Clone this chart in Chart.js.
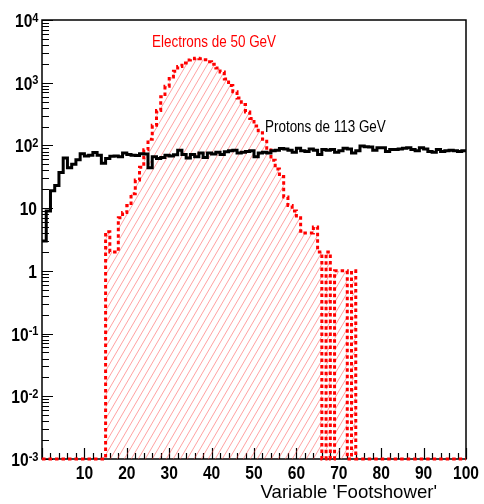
<!DOCTYPE html>
<html>
<head>
<meta charset="utf-8">
<title>Footshower</title>
<script src="https://cdn.jsdelivr.net/npm/chart.js@4.4.0/dist/chart.umd.min.js"></script>
<style>
    html, body { margin: 0; padding: 0; background: #fff; }
    #c { display: block; }
</style>
</head>
<body>
<canvas id="c" width="484" height="504"></canvas>
<script>
(function () {
    "use strict";

    // bin contents, 100 bins of width 1 from 0 to 100
    const protons = [
        3, 9, 19, 23, 37, 63, 44, 50, 59, 74,
        68, 70, 77, 70, 52, 62, 67, 68, 66, 76,
        72, 70, 69, 74, 73, 44, 66, 62, 64, 70,
        68, 71, 84, 72, 63, 72, 66, 76, 64, 76,
        73, 78, 72, 79, 82, 84, 76, 78, 80, 82,
        66, 76, 78, 76, 82, 84, 89, 88, 84, 78,
        90, 82, 80, 88, 84, 72, 86, 84, 86, 78,
        82, 90, 88, 76, 82, 98, 95, 94, 84, 92,
        92, 80, 86, 86, 88, 90, 92, 86, 82, 92,
        88, 80, 78, 86, 80, 82, 84, 82, 80, 82
    ];
    const electrons = [
        0, 0, 0, 0, 0, 0, 0, 0, 0, 0,
        0, 0, 0, 0, 0, 4.2, 2, 2, 7, 8.5,
        11, 17, 28, 45, 85, 125, 210, 360, 600, 880,
        1230, 1530, 1820, 2070, 2300, 2400, 2460, 2420, 2330, 2150,
        1970, 1720, 1480, 1150, 900, 720, 570, 450, 340, 270,
        205, 160, 125, 90, 58, 42, 32, 15, 11, 9,
        7, 4.3, 4, 4, 5, 2, 0, 2, 0, 1,
        1, 1, 0, 1, 0, 0, 0, 0, 0, 0,
        0, 0, 0, 0, 0, 0, 0, 0, 0, 0,
        0, 0, 0, 0, 0, 0, 0, 0, 0, 0
    ];
    const xLabels = [10, 20, 30, 40, 50, 60, 70, 80, 90, 100];
    const xMinorStep = 2;
    const yExponents = [-3, -2, -1, 0, 1, 2, 3, 4];
    const xMin = 0, xMax = 100;
    const yMin = 1e-3, yMax = 1e4;

    const canvas = document.getElementById('c');
    const ctx = canvas.getContext('2d');

    // histogram -> points for a 'middle' stepped line (empty bins sit on the floor)
    function steps(vals) {
        var fl = function (v) { return v > 0 ? v : yMin; };
        var pts = [{ x: xMin, y: fl(vals[0]) }];
        vals.forEach(function (v, i) {
            pts.push({ x: xMin + i + 0.5, y: fl(v) });
        });
        pts.push({ x: xMin + vals.length, y: fl(vals[vals.length - 1]) });
        return pts;
    }

    // ROOT style 3004-ish hatch
    function hatch() {
        var t = document.createElement('canvas');
        t.width = 7;
        t.height = 12;
        var g = t.getContext('2d');
        g.strokeStyle = 'rgba(255, 70, 70, 0.5)';
        g.lineWidth = 1;
        g.beginPath();
        for (var k = -1; k <= 1; k++) {
            g.moveTo(k * 7, 12);
            g.lineTo(k * 7 + 7, 0);
        }
        g.stroke();
        return ctx.createPattern(t, 'repeat');
    }

    function squeezed(c, txt, x, y, font, align, sx) {
        c.save();
        c.font = font;
        c.textAlign = align;
        c.textBaseline = 'alphabetic';
        c.translate(x, y);
        c.scale(sx, 1);
        c.fillText(txt, 0, 0);
        c.restore();
    }

    // frame + inward ticks, drawn under the histograms
    const rootFrame = {
        id: 'rootFrame',
        beforeDatasetsDraw: function (chart) {
            var a = chart.chartArea, c = chart.ctx;
            var xs = chart.scales.x, ys = chart.scales.y;
            c.save();
            c.strokeStyle = '#000';
            c.lineWidth = 1.5;
            c.strokeRect(a.left, a.top, a.right - a.left, a.bottom - a.top);

            c.lineWidth = 1.2;
            c.beginPath();
            for (var v = xMin; v <= xMax; v += xMinorStep) {
                var px = Math.round(xs.getPixelForValue(v)) + 0.5;
                var len = (v % 10 === 0) ? 11 : 6;
                c.moveTo(px, a.bottom);
                c.lineTo(px, a.bottom - len);
            }
            yExponents.forEach(function (e) {
                var base = Math.pow(10, e);
                var py = Math.round(ys.getPixelForValue(base)) + 0.5;
                c.moveTo(a.left, py);
                c.lineTo(a.left + 11, py);
                if (base * 10 > yMax) return;
                for (var k = 2; k <= 9; k++) {
                    var q = Math.round(ys.getPixelForValue(k * base)) + 0.5;
                    c.moveTo(a.left, q);
                    c.lineTo(a.left + 7, q);
                }
            });
            c.stroke();
            c.restore();
        },
        afterDraw: function (chart) {
            var a = chart.chartArea, c = chart.ctx;
            var xs = chart.scales.x, ys = chart.scales.y;
            var big = 'bold 19px "Liberation Sans", Arial, sans-serif';
            var sup = 'bold 13px "Liberation Sans", Arial, sans-serif';
            c.save();
            c.fillStyle = '#000';

            xLabels.forEach(function (v) {
                squeezed(c, String(v), xs.getPixelForValue(v), a.bottom + 20, big, 'center', 0.82);
            });

            yExponents.forEach(function (e) {
                var py = ys.getPixelForValue(Math.pow(10, e));
                if (e === 0 || e === 1) {
                    squeezed(c, e === 0 ? '1' : '10', 37, py + 7, big, 'right', 0.82);
                    return;
                }
                var ex = String(e);
                c.font = sup;
                var ws = c.measureText(ex).width * 0.85;
                squeezed(c, ex, 38.5 - ws, py + 1.5, sup, 'left', 0.85);
                squeezed(c, '10', 38.5 - ws, py + 7, big, 'right', 0.82);
            });

            // axis title, right side like ROOT
            squeezed(c, "Variable 'Footshower'", 437, 498, '19px "Liberation Sans", Arial, sans-serif', 'right', 0.98);

            // histogram captions
            c.fillStyle = '#ff0000';
            squeezed(c, 'Electrons de 50 GeV', 152, 47, '16px "Liberation Sans", Arial, sans-serif', 'left', 0.84);
            c.fillStyle = '#000';
            squeezed(c, 'Protons de 113 GeV', 265, 132, '16px "Liberation Sans", Arial, sans-serif', 'left', 0.84);
            c.restore();
        }
    };

    new Chart(ctx, {
        type: 'line',
        data: {
            datasets: [{
                label: 'Protons de 113 GeV',
                data: steps(protons),
                stepped: 'middle',
                borderColor: '#000',
                borderWidth: 3,
                borderJoinStyle: 'miter',
                pointRadius: 0,
                fill: false,
                order: 0
            }, {
                label: 'Electrons de 50 GeV',
                data: steps(electrons),
                stepped: 'middle',
                borderColor: '#ff0000',
                borderWidth: 3,
                borderDash: [3.5, 3],
                borderJoinStyle: 'miter',
                pointRadius: 0,
                fill: 'start',
                backgroundColor: hatch(),
                clip: 4,
                order: 1
            }]
        },
        options: {
            responsive: false,
            animation: false,
            devicePixelRatio: 1,
            layout: { padding: { top: 20, right: 18, left: 0, bottom: 0 } },
            scales: {
                x: {
                    type: 'linear',
                    min: xMin,
                    max: xMax,
                    grid: { display: false },
                    border: { display: false },
                    ticks: { display: false },
                    afterFit: function (s) { s.height = 45; }
                },
                y: {
                    type: 'logarithmic',
                    min: yMin,
                    max: yMax,
                    grid: { display: false },
                    border: { display: false },
                    ticks: { display: false },
                    afterFit: function (s) { s.width = 42; }
                }
            },
            plugins: {
                legend: { display: false },
                tooltip: { enabled: false }
            }
        },
        plugins: [rootFrame]
    });
})();
</script>
</body>
</html>
